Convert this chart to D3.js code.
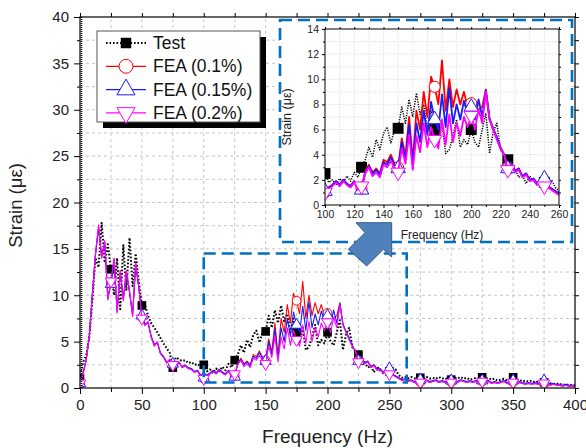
<!DOCTYPE html>
<html><head><meta charset="utf-8">
<script src="https://cdn.jsdelivr.net/npm/d3@7"></script>
<style>
body{margin:0;background:#fff}
svg{display:block}
text{font-family:Arial,"Liberation Sans",sans-serif}
</style>
</head><body>
<svg id="c" width="586" height="448"></svg>
<script>
// ---------- DATA ----------
const freqStep = 2.5; // Hz between samples, starting at 0 Hz
const seriesNames = ["Test", "FEA (0.1%)", "FEA (0.15%)", "FEA (0.2%)"];
const testVals = [
 1.0,2.8,3.5,5.5,9.5,14.0,13.0,17.8,13.5,15.5,
 12.8,10.0,14.0,8.5,15.4,10.5,16.2,11.0,14.5,11.5,
 8.9,9.0,7.8,7.0,6.5,6.0,5.4,4.8,4.3,3.8,
 2.2,3.3,3.1,2.9,3.0,2.7,2.8,2.5,2.6,2.3,
 2.5,1.8,2.0,1.6,2.1,1.8,2.3,1.9,2.6,2.2,
 3.0,3.6,4.6,3.8,5.2,4.4,5.7,6.2,4.9,6.0,
 6.1,7.8,6.5,8.4,7.0,8.9,7.2,8.0,6.0,7.5,
 6.0,4.8,6.5,4.1,4.4,5.5,6.8,4.6,5.2,4.8,
 6.0,5.0,4.6,6.0,7.3,4.1,5.8,6.5,4.4,4.0,
 3.6,2.5,2.8,2.2,2.4,1.7,2.3,1.9,1.6,1.8,
 1.8,1.5,2.0,1.4,1.1,1.2,1.0,1.2,1.1,0.9,
 1.1,1.0,1.2,1.0,1.1,1.0,1.2,1.0,1.1,0.9,
 0.9,1.1,1.0,1.2,1.0,1.1,0.9,1.0,1.1,0.9,
 1.15,1.0,1.1,0.9,1.0,0.8,0.9,1.0,0.8,0.9,
 1.15,0.8,0.9,0.7,0.8,0.7,0.8,0.6,0.7,0.6,
 0.6,0.5,0.5,0.4,0.5,0.4,0.4,0.3,0.4,0.3,
 0.3];
const fea01 = [
 0.5,1.6,3.0,5.5,10.1,14.4,17.4,14.1,15.8,9.6,
 11.4,13.9,8.2,12.6,9.5,12.6,10.4,7.8,13.4,10.9,
 7.6,6.8,7.1,5.5,4.6,4.9,3.7,3.4,2.7,3.1,
 2.5,2.4,2.8,2.2,2.4,2.1,2.0,1.7,1.8,1.3,
 1.0,1.4,1.6,1.9,1.6,2.0,1.7,1.5,1.9,1.3,
 1.3,2.7,3.2,2.6,2.9,2.5,3.6,3.4,4.0,3.3,
 3.0,5.3,3.9,7.0,3.5,7.5,6.0,9.0,7.0,10.2,
 9.4,8.0,11.5,7.5,10.0,7.8,9.2,8.0,9.0,7.8,
 8.1,7.2,7.6,7.8,9.2,6.8,6.0,5.3,4.5,4.0,
 3.0,3.3,2.7,2.9,2.3,2.5,2.0,2.1,1.7,1.9,
 1.7,1.4,1.3,1.1,0.9,0.9,0.7,0.8,0.6,0.7,
 0.6,0.7,0.8,0.6,0.7,0.8,0.6,0.7,0.6,0.7,
 0.6,0.7,0.6,0.8,0.7,0.6,0.7,0.6,0.7,0.6,
 0.7,0.6,0.7,0.5,0.6,0.5,0.6,0.7,0.5,0.6,
 0.6,0.5,0.6,0.5,0.4,0.5,0.4,0.5,0.4,0.5,
 0.5,0.4,0.3,0.4,0.3,0.3,0.2,0.3,0.2,0.2,
 0.2];
const fea015 = [
 0.5,1.6,3.1,5.6,10.2,14.3,17.2,14.3,15.6,9.8,
 11.2,13.7,8.4,12.4,9.7,12.5,10.3,8.0,13.2,10.8,
 7.8,6.9,7.0,5.6,4.7,4.9,3.8,3.4,2.8,3.0,
 2.6,2.5,2.7,2.3,2.5,2.2,2.1,1.8,1.9,1.4,
 1.1,1.4,1.6,1.9,1.6,2.0,1.7,1.5,1.9,1.3,
 1.2,2.6,3.1,2.5,2.8,2.4,3.4,3.2,3.8,3.2,
 2.9,5.0,3.6,6.4,3.2,6.5,5.0,7.5,5.6,8.2,
 6.8,6.0,8.8,6.2,9.3,6.5,8.0,6.8,8.3,7.2,
 7.8,6.8,8.4,7.0,9.1,6.9,6.1,5.4,4.6,4.0,
 2.9,3.3,2.7,2.9,2.3,2.5,2.0,2.1,1.7,1.9,
 2.1,1.5,1.3,1.1,0.9,1.0,0.8,0.9,0.7,0.8,
 0.9,0.8,0.9,0.7,0.8,0.9,0.7,0.8,0.7,0.8,
 0.8,0.8,0.7,0.9,0.8,0.7,0.8,0.7,0.8,0.7,
 0.8,0.7,0.8,0.6,0.7,0.6,0.7,0.8,0.6,0.7,
 0.8,0.6,0.7,0.6,0.5,0.6,0.5,0.6,0.5,0.6,
 0.8,0.5,0.4,0.5,0.4,0.4,0.3,0.4,0.3,0.3,
 0.3];
const fea02 = [
 0.5,1.5,3.0,5.5,10.0,14.5,17.6,14.0,15.9,9.5,
 11.5,14.0,8.1,12.7,9.4,12.7,10.5,7.7,13.5,11.0,
 7.5,6.7,7.2,5.5,4.5,5.0,3.7,3.3,2.7,3.1,
 2.5,2.4,2.8,2.2,2.4,2.1,2.0,1.7,1.8,1.3,
 1.0,1.3,1.5,1.8,1.5,1.9,1.6,1.4,1.8,1.2,
 1.5,2.5,3.0,2.3,2.6,2.2,3.2,3.0,3.5,3.0,
 2.6,4.5,3.3,5.6,2.8,5.5,4.2,6.5,4.6,6.2,
 5.2,4.5,6.8,4.8,7.2,5.0,6.5,5.5,7.0,6.2,
 7.1,6.0,7.6,6.5,9.0,6.8,6.0,5.2,4.5,4.0,
 2.8,3.2,2.6,2.8,2.2,2.4,1.9,2.0,1.6,1.8,
 1.5,1.4,1.2,1.0,0.8,0.9,0.7,0.8,0.6,0.7,
 0.6,0.7,0.8,0.6,0.7,0.8,0.6,0.7,0.6,0.7,
 0.6,0.7,0.6,0.8,0.7,0.6,0.7,0.6,0.7,0.6,
 0.7,0.6,0.7,0.5,0.6,0.5,0.6,0.7,0.5,0.6,
 0.6,0.5,0.6,0.5,0.4,0.5,0.4,0.5,0.4,0.5,
 0.5,0.4,0.3,0.4,0.3,0.3,0.2,0.3,0.2,0.2,
 0.2];
const markerFreqs = [0,25,50,75,100,125,150,175,200,225,250,275,300,325,350,375];
const insetMarkerFreqs = [100,125,150,175,200,225,250];
const xTicks = [0,50,100,150,200,250,300,350,400];
const yTicks = [0,5,10,15,20,25,30,35,40];
const insetXTicks = [100,120,140,160,180,200,220,240,260];
const insetYTicks = [0,2,4,6,8,10,12,14];
const zoomRange = {f0:100, f1:264, v0:0.6, v1:14.5};

// ---------- SETUP ----------
const svg = d3.select("#c");
const colors = ["#000000","#ff0000","#1a1aff","#ff00ff"];
const allVals = [testVals, fea01, fea015, fea02];
const series = allVals.map((vals,k)=>({
  name: seriesNames[k], color: colors[k],
  pts: vals.map((v,i)=>({f:i*freqStep, v}))
}));
const valAt = (k,f)=> allVals[k][Math.round(f/freqStep)];

const x = d3.scaleLinear().domain([0,400]).range([80,575]);
const y = d3.scaleLinear().domain([0,40]).range([388,17]);

const defs = svg.append("defs");
defs.append("clipPath").attr("id","clipMain").append("rect")
  .attr("x",x(0)).attr("y",y(40)).attr("width",x(400)-x(0)).attr("height",y(0)-y(40));

function symbolPath(k, size){
  if(k===0) return d3.symbol(d3.symbolSquare, size)();
  if(k===1) return d3.symbol(d3.symbolCircle, size*0.8)();
  return d3.symbol(d3.symbolTriangle, size*0.75)();
}

// grid
const grid = svg.append("g");
grid.selectAll("line.gx").data(d3.range(25,400,25)).join("line")
  .attr("x1",d=>x(d)).attr("x2",d=>x(d)).attr("y1",y(0)).attr("y2",y(40))
  .attr("stroke","#b8b8b8").attr("stroke-width",0.8).attr("stroke-dasharray","3,3");
grid.selectAll("line.gy").data(d3.range(2.5,40,2.5)).join("line")
  .attr("y1",d=>y(d)).attr("y2",d=>y(d)).attr("x1",x(0)).attr("x2",x(400))
  .attr("stroke","#b8b8b8").attr("stroke-width",0.8).attr("stroke-dasharray","3,3");

function drawSeries(g, xs, ys, fr, marks, opt){
  series.forEach((s,k)=>{
    const pts = s.pts.filter(p=>p.f>=fr[0]-freqStep && p.f<=fr[1]+freqStep);
    const line = d3.line().x(d=>xs(d.f)).y(d=>ys(d.v));
    g.append("path").datum(pts).attr("d",line).attr("fill","none")
      .attr("stroke",s.color)
      .attr("stroke-width", k===0? opt.testW : opt.lineW)
      .attr("stroke-dasharray", k===0? opt.dash : null)
      .attr("stroke-linejoin","round");
    g.selectAll(null).data(marks).join("path")
      .attr("transform",f=>`translate(${xs(f)},${ys(valAt(k,f))})${k===3?" rotate(180)":""}`)
      .attr("d",symbolPath(k,opt.msize))
      .attr("fill",k===0?"#000":"#fff")
      .attr("stroke",s.color).attr("stroke-width",k===0?0:1);
  });
}

const dataG = svg.append("g").attr("clip-path","url(#clipMain)");
drawSeries(dataG, x, y, [0,400], markerFreqs, {testW:2, lineW:1.1, dash:"1.6,1.9", msize:75});

// axes main
function styleAxis(g, fs){
  g.selectAll("text").attr("font-size",fs).attr("fill","#222");
  g.selectAll("line").attr("stroke","#000");
  g.select(".domain").remove();
}
svg.append("g").attr("transform",`translate(0,${y(0)})`)
  .call(d3.axisBottom(x).tickValues(xTicks).tickSize(6).tickPadding(5).tickFormat(d3.format("d")))
  .call(g=>styleAxis(g,"15px"));
svg.append("g").attr("transform",`translate(0,${y(0)})`)
  .call(d3.axisBottom(x).tickValues(d3.range(25,400,50)).tickSize(4).tickFormat(""))
  .call(g=>styleAxis(g,"15px"));
svg.append("g").attr("transform",`translate(${x(0)},0)`)
  .call(d3.axisLeft(y).tickValues(yTicks).tickSize(6).tickPadding(5).tickFormat(d3.format("d")))
  .call(g=>styleAxis(g,"15px"));
svg.append("g").attr("transform",`translate(${x(0)},0)`)
  .call(d3.axisLeft(y).tickValues(d3.range(2.5,40,5)).tickSize(3).tickFormat(""))
  .call(g=>styleAxis(g,"15px"));
svg.append("g").attr("transform",`translate(0,${y(40)})`)
  .call(d3.axisTop(x).tickValues(d3.range(0,401,25)).tickSize(4).tickFormat(""))
  .call(g=>styleAxis(g,"15px"));
svg.append("g").attr("transform",`translate(${x(400)},0)`)
  .call(d3.axisRight(y).tickValues(d3.range(0,40.1,2.5)).tickSize(4).tickFormat(""))
  .call(g=>styleAxis(g,"15px"));
svg.append("rect").attr("x",x(0)).attr("y",y(40)).attr("width",x(400)-x(0)).attr("height",y(0)-y(40))
  .attr("fill","none").attr("stroke","#000").attr("stroke-width",1.2);
svg.append("line").attr("x1",x(0)+1.5).attr("x2",x(0)+1.5).attr("y1",y(40)).attr("y2",y(0))
  .attr("stroke","#000").attr("stroke-width",1.6).attr("stroke-dasharray","1,1");

// axis titles
svg.append("text").attr("x",(x(0)+x(400))/2).attr("y",443).attr("text-anchor","middle")
  .attr("font-size","19px").attr("fill","#222").text("Frequency (Hz)");
svg.append("text").attr("transform",`translate(22,${(y(0)+y(40))/2 + 3}) rotate(-90)`)
  .attr("text-anchor","middle").attr("font-size","18.5px").attr("fill","#222").text("Strain (\u03bc\u03b5)");

// legend
const lg = svg.append("g");
lg.append("rect").attr("x",103).attr("y",37).attr("width",163).attr("height",91).attr("fill","#000");
lg.append("rect").attr("x",97).attr("y",31).attr("width",163).attr("height",91).attr("fill","#fff")
  .attr("stroke","#555").attr("stroke-width",1);
series.forEach((s,k)=>{
  const cy = 43 + k*23.3;
  lg.append("line").attr("x1",106).attr("x2",146).attr("y1",cy).attr("y2",cy)
    .attr("stroke",s.color).attr("stroke-width",k===0?2:1.3)
    .attr("stroke-dasharray",k===0?"1.6,1.9":null);
  lg.append("path").attr("transform",`translate(126,${cy})${k===3?" rotate(180)":""}`)
    .attr("d",symbolPath(k,k===0?110:190)).attr("fill",k===0?"#000":"#fff")
    .attr("stroke",s.color).attr("stroke-width",k===0?0:1);
  lg.append("text").attr("x",153).attr("y",cy+6).attr("font-size","17.5px").attr("fill","#111").text(s.name);
});

// zoom box in main chart
const blue = "#0070c0";
svg.append("rect").attr("x",x(zoomRange.f0)).attr("y",y(zoomRange.v1))
  .attr("width",x(zoomRange.f1)-x(zoomRange.f0)).attr("height",y(zoomRange.v0)-y(zoomRange.v1))
  .attr("fill","none").attr("stroke",blue).attr("stroke-width",2.6).attr("stroke-dasharray","12,6");

// ---------- INSET ----------
svg.append("rect").attr("x",280).attr("y",20).attr("width",292).attr("height",222).attr("fill","#fff");
const ix = d3.scaleLinear().domain([100,260]).range([325,559]);
const iy = d3.scaleLinear().domain([0,14]).range([205,29]);
defs.append("clipPath").attr("id","clipIn").append("rect")
  .attr("x",ix(100)).attr("y",iy(14)).attr("width",ix(260)-ix(100)).attr("height",iy(0)-iy(14));
const ig = svg.append("g");
ig.selectAll("line.gx").data(d3.range(110,260,10)).join("line")
  .attr("x1",d=>ix(d)).attr("x2",d=>ix(d)).attr("y1",iy(0)).attr("y2",iy(14))
  .attr("stroke","#c8c8c8").attr("stroke-width",0.7).attr("stroke-dasharray","1,1.5");
ig.selectAll("line.gy").data(d3.range(1,14,1)).join("line")
  .attr("y1",d=>iy(d)).attr("y2",d=>iy(d)).attr("x1",ix(100)).attr("x2",ix(260))
  .attr("stroke","#c8c8c8").attr("stroke-width",0.7).attr("stroke-dasharray","1,1.5");
const idata = svg.append("g").attr("clip-path","url(#clipIn)");
drawSeries(idata, ix, iy, [100,260], insetMarkerFreqs, {testW:1.5, lineW:1.8, dash:"1.2,1.3", msize:120});

svg.append("g").attr("transform",`translate(0,${iy(0)})`)
  .call(d3.axisBottom(ix).tickValues(insetXTicks).tickSize(3).tickPadding(3))
  .call(g=>styleAxis(g,"10.5px"));
svg.append("g").attr("transform",`translate(0,${iy(0)})`)
  .call(d3.axisBottom(ix).tickValues(d3.range(110,260,20)).tickSize(2).tickFormat(""))
  .call(g=>styleAxis(g,"10px"));
svg.append("g").attr("transform",`translate(${ix(100)},0)`)
  .call(d3.axisLeft(iy).tickValues(insetYTicks).tickSize(3).tickPadding(3))
  .call(g=>styleAxis(g,"10.5px"));
svg.append("g").attr("transform",`translate(${ix(100)},0)`)
  .call(d3.axisLeft(iy).tickValues(d3.range(1,14,2)).tickSize(2).tickFormat(""))
  .call(g=>styleAxis(g,"10px"));
svg.append("g").attr("transform",`translate(0,${iy(14)})`)
  .call(d3.axisTop(ix).tickValues(d3.range(100,261,10)).tickSize(2).tickFormat(""))
  .call(g=>styleAxis(g,"10px"));
svg.append("g").attr("transform",`translate(${ix(260)},0)`)
  .call(d3.axisRight(iy).tickValues(d3.range(0,14.1,1)).tickSize(2).tickFormat(""))
  .call(g=>styleAxis(g,"10px"));
svg.append("rect").attr("x",ix(100)).attr("y",iy(14)).attr("width",ix(260)-ix(100)).attr("height",iy(0)-iy(14))
  .attr("fill","none").attr("stroke","#000").attr("stroke-width",1);
svg.append("text").attr("x",(ix(100)+ix(260))/2).attr("y",239).attr("text-anchor","middle")
  .attr("font-size","12px").attr("fill","#222").text("Frequency (Hz)");
svg.append("text").attr("transform",`translate(291,${(iy(0)+iy(14))/2}) rotate(-90)`)
  .attr("text-anchor","middle").attr("font-size","12.5px").attr("fill","#222").text("Strain (\u03bc\u03b5)");

// inset dashed border
svg.append("rect").attr("x",280).attr("y",20).attr("width",292).attr("height",222)
  .attr("fill","none").attr("stroke",blue).attr("stroke-width",2.6).attr("stroke-dasharray","12,6");

// arrow
svg.append("path")
  .attr("d","M356,222.7 L391.7,222.7 L391.7,257 L383.3,249.3 L366.7,266 L348.3,249.3 L365,232.7 Z")
  .attr("fill","#4f81bd").attr("stroke","#385d8a").attr("stroke-width",1);
</script>
</body></html>
